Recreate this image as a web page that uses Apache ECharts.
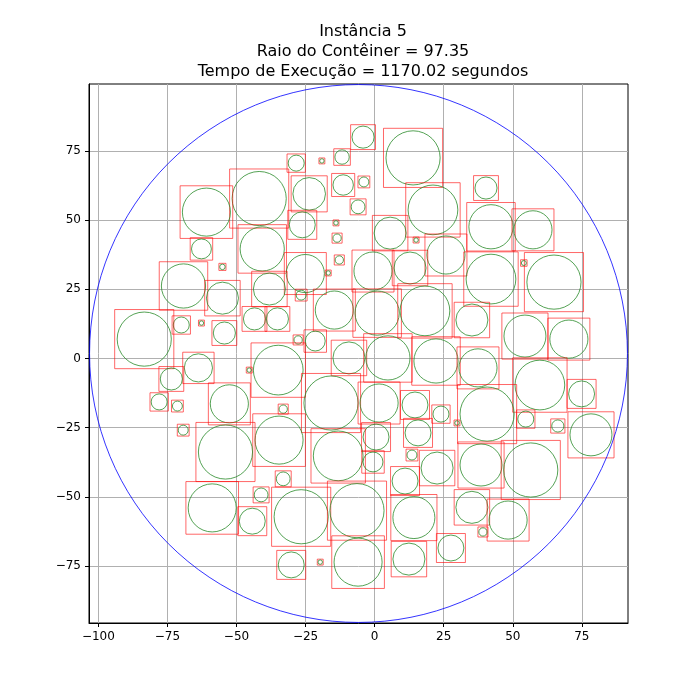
<!DOCTYPE html>
<html><head><meta charset="utf-8">
<script src="https://cdn.jsdelivr.net/npm/echarts@6/dist/echarts.min.js"></script>
<style>html,body{margin:0;padding:0;background:#fff}#c{width:700px;height:700px}</style>
</head><body><div id="c"></div>
<script>
const titleLines = ['Instância 5', 'Raio do Contêiner = 97.35', 'Tempo de Execução = 1170.02 segundos'];
const xTicks = [-100,-75,-50,-25,0,25,50,75];
const yTicks = [-75,-50,-25,0,25,50,75];
const container = [-5.85, 1.8, 97.35];
const cx = [-4.2,13.9,-28.4,-19.1,-11.8,-23.7,-11.4,-3.9,-41.8,-60.9,40.3,21.1,-6.0,-26.2,-14,42.1,57.3,5.6,-13.6,15,-62.7,-40.7,25.8,-25.1,-12.8,-55.1,-0.6,12.8,42.1,64.9,54,-16.8,-69.2,-38.1,-55.1,-26.6,-14.6,0.9,18.2,35.2,-43.5,-35.2,-70.0,-62.7,-54.4,-83.4,-27.7,-21.5,54.4,70.3,-9.3,4.8,22.2,-34.9,-63.8,37.4,-45.4,-73.6,59.8,-15.8,-52.6,1.6,14.6,40.7,74.9,-78,-71.4,-33.1,24.0,29.8,54.7,66.3,-69.3,-34.6,15.7,0.5,78.3,-54.0,-13.2,13.5,38.5,56.5,-0.6,22.6,-33.1,11.0,-41.1,-58.8,-26.6,-6.4,35.2,14.2,-44.3,48.3,39.2,27.6,-6.0,12.4,-30.2,-19.7];
const cy = [80.0,72.5,70.6,71.4,72.8,59.5,62.7,63.8,57.8,52.9,61.6,53.7,54.8,48.3,49,47.6,46.5,45.3,43.5,42.8,39.6,39.6,37.4,30.7,35.6,33.1,31.6,32.7,28.7,27.6,34.5,30.9,26.2,25.1,21.8,22.9,17.5,16.4,17.2,13.9,14.3,14.3,12.1,12.8,9.2,7.0,6.7,6.3,8.1,7.0,0.2,0.2,-0.9,-4.2,-3.4,-3.4,-4.2,-7.4,-9.6,-16.1,-16.4,-16.1,-16.8,-20.1,-12.8,-15.7,-17.2,-18.3,-20.1,-23.3,-21.9,-24.4,-25.9,-29.5,-26.9,-28.4,-27.6,-33.8,-35.2,-34.9,-38.5,-40.3,-37.4,-39.6,-43.5,-44.3,-49.3,-54.0,-57.2,-55.0,-53.8,-57.5,-58.8,-58.4,-62.7,-68.5,-73.6,-72.5,-74.6,-73.6];
const cr = [4.0,9.8,2.9,0.8,2.6,5.9,3.7,1.8,9.8,8.7,4.0,9.0,2.5,4.7,0.8,8.0,6.9,5.8,1.5,0.8,3.6,8.0,6.9,6.9,1.5,1,6.9,5.8,9.0,9.8,0.9,0.8,8.0,5.8,5.8,1.8,6.9,8.0,9.0,5.8,4.0,4.0,2.9,0.8,4.0,9.8,1.5,3.6,7.6,6.9,5.8,8.0,8.0,9.0,5.1,6.9,0.8,4.0,9.0,9.8,6.9,6.9,4.7,9.8,4.7,2.9,1.8,1.5,2.9,0.8,2.9,2.2,1.8,8.7,4.7,4.7,7.6,9.8,9.0,1.8,7.6,9.8,3.6,5.8,2.5,4.7,2.5,8.7,9.8,9.8,5.8,7.6,4.7,6.9,1.5,4.7,8.7,5.8,4.7,0.8];
const circles = cx.map((x,i)=>[x, cy[i], cr[i]]);
const chart = echarts.init(document.getElementById('c'));
const fmt = v => String(v).replace('-', '\u2212');
function renderCircle(withBox){
  return function(params, api){
    const c = api.coord([api.value(0), api.value(1)]);
    const s = api.size([api.value(2), api.value(2)]);
    const r = s[0];
    const ch = [{type:'circle', shape:{cx:c[0], cy:c[1], r:r}, style:{fill:'none', stroke: withBox ? '#2a8a2a' : '#0000ff', lineWidth:0.8}}];
    if (withBox) {
      const h = r*1.07 + 0.6;
      ch.unshift({type:'rect', shape:{x:c[0]-h, y:c[1]-h, width:2*h, height:2*h}, style:{fill:'none', stroke:'rgba(255,0,0,0.75)', lineWidth:0.8}});
    }
    return {type:'group', children: ch};
  };
}
chart.setOption({
  animation:false,
  title:{text: titleLines.join('\n'), left:358, textAlign:'center', top:17, textStyle:{fontFamily:'DejaVu Sans', fontSize:16, fontWeight:'normal', color:'#000', lineHeight:20}},
  grid:{left:89, right:72, top:84, bottom:77, show:true, borderColor:'#000', borderWidth:1},
  xAxis:{type:'value', min:-103.4, max:91.7,
    axisLine:{onZero:false, lineStyle:{color:'#000'}},
    axisLabel:{color:'#000', fontFamily:'DejaVu Sans', fontSize:12, formatter:fmt, customValues:xTicks, margin:8},
    axisTick:{show:true, customValues:xTicks, length:4, lineStyle:{color:'#000'}},
    splitLine:{show:true, customValues:xTicks, lineStyle:{color:'#b0b0b0'}}},
  yAxis:{type:'value', min:-95.6, max:99.2,
    axisLine:{onZero:false, lineStyle:{color:'#000'}},
    axisLabel:{color:'#000', fontFamily:'DejaVu Sans', fontSize:12, formatter:fmt, customValues:yTicks, margin:8},
    axisTick:{show:true, customValues:yTicks, length:4, lineStyle:{color:'#000'}},
    splitLine:{show:true, customValues:yTicks, lineStyle:{color:'#b0b0b0'}}},
  series:[
    {type:'custom', renderItem: renderCircle(true), data: circles, clip:true},
    {type:'custom', renderItem: renderCircle(false), data: [container], clip:true}
  ]
});
</script></body></html>
